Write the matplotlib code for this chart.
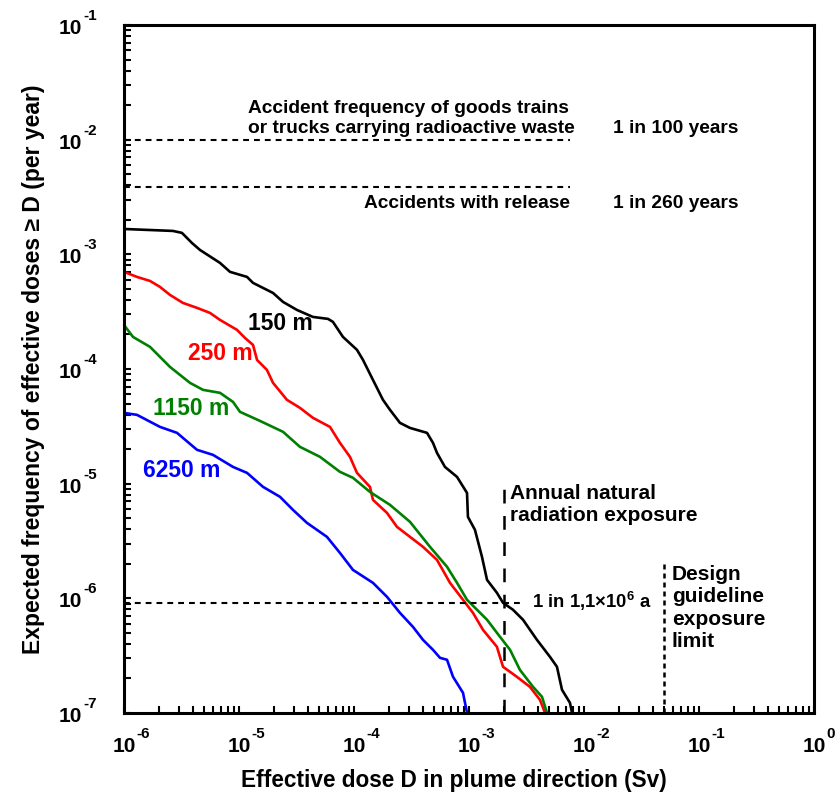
import numpy as np
import matplotlib
matplotlib.use('Agg')
import matplotlib.pyplot as plt
import matplotlib.ticker as mticker
import matplotlib.transforms as mtransforms

plt.rcParams['font.family'] = ['Liberation Sans', 'DejaVu Sans']
plt.rcParams['font.weight'] = 'bold'
plt.rcParams['mathtext.fontset'] = 'custom'
plt.rcParams['mathtext.rm'] = 'Liberation Sans:bold'
plt.rcParams['mathtext.bf'] = 'Liberation Sans:bold'

# curves, log10 of dose (Sv) and of frequency (per year)
dose_150 = [-6.000, -5.574, -5.496, -5.409, -5.339, -5.165, -5.078, -4.930, -4.878,
            -4.704, -4.617, -4.496, -4.357, -4.226, -4.183, -4.096, -3.974, -3.922,
            -3.835, -3.748, -3.687, -3.600, -3.513, -3.365, -3.313, -3.278, -3.209,
            -3.104, -3.017, -3.009, -2.948, -2.887, -2.843, -2.757, -2.704, -2.617,
            -2.530, -2.409, -2.296, -2.235, -2.191, -2.122, -2.104]
freq_150 = [-2.779, -2.796, -2.813, -2.901, -2.962, -3.075, -3.153, -3.197, -3.249,
            -3.337, -3.415, -3.485, -3.546, -3.563, -3.589, -3.720, -3.833, -3.920,
            -4.095, -4.269, -4.356, -4.470, -4.514, -4.557, -4.644, -4.732, -4.854,
            -4.941, -5.081, -5.290, -5.403, -5.638, -5.839, -5.952, -6.039, -6.100,
            -6.187, -6.362, -6.510, -6.597, -6.798, -6.911, -6.998]

dose_250 = [-6.000, -5.887, -5.774, -5.687, -5.600, -5.487, -5.365, -5.252, -5.165,
            -5.017, -4.948, -4.878, -4.843, -4.757, -4.704, -4.583, -4.470, -4.357,
            -4.209, -4.122, -4.035, -3.974, -3.861, -3.835, -3.713, -3.626, -3.513,
            -3.400, -3.278, -3.165, -3.052, -2.965, -2.878, -2.757, -2.704, -2.583,
            -2.470, -2.383, -2.339]
freq_250 = [-3.153, -3.197, -3.232, -3.284, -3.354, -3.424, -3.467, -3.511, -3.572,
            -3.659, -3.729, -3.790, -3.921, -4.008, -4.121, -4.269, -4.339, -4.426,
            -4.505, -4.644, -4.766, -4.906, -5.028, -5.141, -5.255, -5.377, -5.464,
            -5.551, -5.665, -5.865, -6.013, -6.127, -6.275, -6.423, -6.597, -6.685,
            -6.772, -6.885, -6.998]

dose_1150 = [-6.000, -5.922, -5.774, -5.600, -5.426, -5.313, -5.165, -5.052, -4.991,
             -4.817, -4.617, -4.470, -4.296, -4.122, -4.009, -3.861, -3.687, -3.513,
             -3.339, -3.191, -3.104, -3.017, -2.843, -2.730, -2.643, -2.557, -2.443,
             -2.365, -2.322]
freq_1150 = [-3.616, -3.720, -3.807, -3.982, -4.121, -4.182, -4.208, -4.287, -4.374,
             -4.453, -4.548, -4.679, -4.766, -4.897, -4.949, -5.072, -5.185, -5.333,
             -5.551, -5.725, -5.865, -6.013, -6.187, -6.336, -6.449, -6.624, -6.772,
             -6.859, -6.998]

dose_6250 = [-6.000, -5.887, -5.687, -5.539, -5.365, -5.226, -5.052, -4.930, -4.791,
             -4.643, -4.530, -4.409, -4.235, -4.122, -4.009, -3.835, -3.713, -3.600,
             -3.487, -3.400, -3.313, -3.252, -3.191, -3.139, -3.052, -3.017]
freq_6250 = [-4.383, -4.400, -4.505, -4.557, -4.705, -4.749, -4.854, -4.906, -5.028,
             -5.115, -5.229, -5.342, -5.464, -5.604, -5.752, -5.865, -5.987, -6.127,
             -6.249, -6.362, -6.449, -6.519, -6.536, -6.684, -6.824, -6.998]

curves = [('150 m', dose_150, freq_150, 'black'),
          ('250 m', dose_250, freq_250, '#ff0000'),
          ('1150 m', dose_1150, freq_1150, '#008000'),
          ('6250 m', dose_6250, freq_6250, '#0000ff')]

# reference levels
freq_trains = 1e-2
freq_release = 1 / 260
freq_site = 1 / 1.1e6
dose_natural = 2e-3
dose_limit = 5e-2

x_decades = [-6, -5, -4, -3, -2, -1, 0]
y_decades = [-7, -6, -5, -4, -3, -2, -1]

fig = plt.figure(figsize=(8.4, 7.96), dpi=100)
ax = fig.add_axes([0.1476, 0.1043, 0.8214, 0.8643])

for name, d, f, c in curves:
    ax.plot(10 ** np.array(d), 10 ** np.array(f), color=c, lw=1.9)

ax.plot([1e-6, 7.6e-3], [freq_trains, freq_trains], color='black', lw=1.5, dashes=(2.8, 2.4))
ax.plot([1e-6, 7.6e-3], [freq_release, freq_release], color='black', lw=1.5, dashes=(2.8, 2.4))
ax.plot([1e-6, 2.95e-3], [freq_site, freq_site], color='black', lw=1.5, dashes=(2.8, 2.4))
ax.plot([dose_natural, dose_natural], [1e-7, 1e-5], color='black', lw=1.8, dashes=(5.5, 5))
ax.plot([dose_limit, dose_limit], [1e-7, 2e-6], color='black', lw=1.8, dashes=(2, 1.6))

ax.set_xscale('log')
ax.set_yscale('log')
ax.set_xlim(1e-6, 1)
ax.set_ylim(1e-7, 1e-1)

# annotations
fs = 13.8
fs2 = 15
ax.text(1.2e-5, 1.72e-2, 'Accident frequency of goods trains', fontsize=fs, va='baseline')
ax.text(1.2e-5, 1.14e-2, 'or trucks carrying radioactive waste', fontsize=fs, va='baseline')
ax.text(1.79e-2, 1.14e-2, '1 in 100 years', fontsize=fs, va='baseline')
ax.text(7.55e-3, 2.52e-3, 'Accidents with release', fontsize=fs, va='baseline', ha='right')
ax.text(1.79e-2, 2.52e-3, '1 in 260 years', fontsize=fs, va='baseline')
ax.text(2.28e-3, 7.33e-6, 'Annual natural', fontsize=fs2, va='baseline')
ax.text(2.28e-3, 4.68e-6, 'radiation exposure', fontsize=fs2, va='baseline')
ax.text(3.51e-3, 8.3e-7, r'1 in 1,1×10$^{\mathbf{6}}$ a', fontsize=13.3, va='baseline')
for txt, yv in zip(['Design', 'guideline', 'exposure', 'limit'],
                   [1.45e-6, 9.26e-7, 5.88e-7, 3.76e-7]):
    ax.text(5.8e-2, yv, txt, fontsize=fs2, va='baseline')

label_pos = [(1.2e-5, 2.19e-4), (3.6e-6, 1.2e-4), (1.79e-6, 3.98e-5), (1.46e-6, 1.15e-5)]
for (name, d, f, c), (lx, ly) in zip(curves, label_pos):
    ax.text(lx, ly, name, color=c, fontsize=16.5, va='baseline')

# axes styling
for s in ax.spines.values():
    s.set_linewidth(2.2)
ax.xaxis.set_major_locator(mticker.LogLocator(base=10, numticks=20))
ax.yaxis.set_major_locator(mticker.LogLocator(base=10, numticks=20))
ax.xaxis.set_minor_locator(mticker.LogLocator(base=10, subs=np.arange(2, 10), numticks=20))
ax.yaxis.set_minor_locator(mticker.LogLocator(base=10, subs=np.arange(2, 10), numticks=20))
ax.xaxis.set_major_formatter(mticker.NullFormatter())
ax.yaxis.set_major_formatter(mticker.NullFormatter())
ax.xaxis.set_minor_formatter(mticker.NullFormatter())
ax.yaxis.set_minor_formatter(mticker.NullFormatter())
ax.tick_params(which='both', direction='in', length=5, width=1.5, top=False, right=False)


# decade labels: "10" with a raised exponent, as in the original
def offset_text(x, y, s, dx, dy, trans, **kw):
    tr = trans + mtransforms.ScaledTranslation(dx / 100, dy / 100, fig.dpi_scale_trans)
    ax.text(x, y, s, transform=tr, clip_on=False, **kw)


for e in x_decades:
    offset_text(10.0 ** e, 0, '10', 0, -38.7, ax.get_xaxis_transform(),
                fontsize=15, ha='center', va='baseline')
    offset_text(10.0 ** e, 0, str(e), 12.5, -24.7, ax.get_xaxis_transform(),
                fontsize=11, ha='left', va='baseline')
for e in y_decades:
    offset_text(0, 10.0 ** e, '10', -42, -9, ax.get_yaxis_transform(),
                fontsize=15, ha='right', va='baseline')
    offset_text(0, 10.0 ** e, str(e), -40.5, 5, ax.get_yaxis_transform(),
                fontsize=11, ha='left', va='baseline')

ax.set_xlabel('Effective dose D in plume direction (Sv)', fontsize=16.3, fontweight='bold')
ax.set_ylabel('Expected frequency of effective doses ≥ D (per year)', fontsize=16.5,
              fontweight='bold')
ax.xaxis.set_label_coords(0.4775, -0.0814)
ax.yaxis.set_label_coords(-0.1145, 0.5)

fig.savefig('out.png', dpi=100)
